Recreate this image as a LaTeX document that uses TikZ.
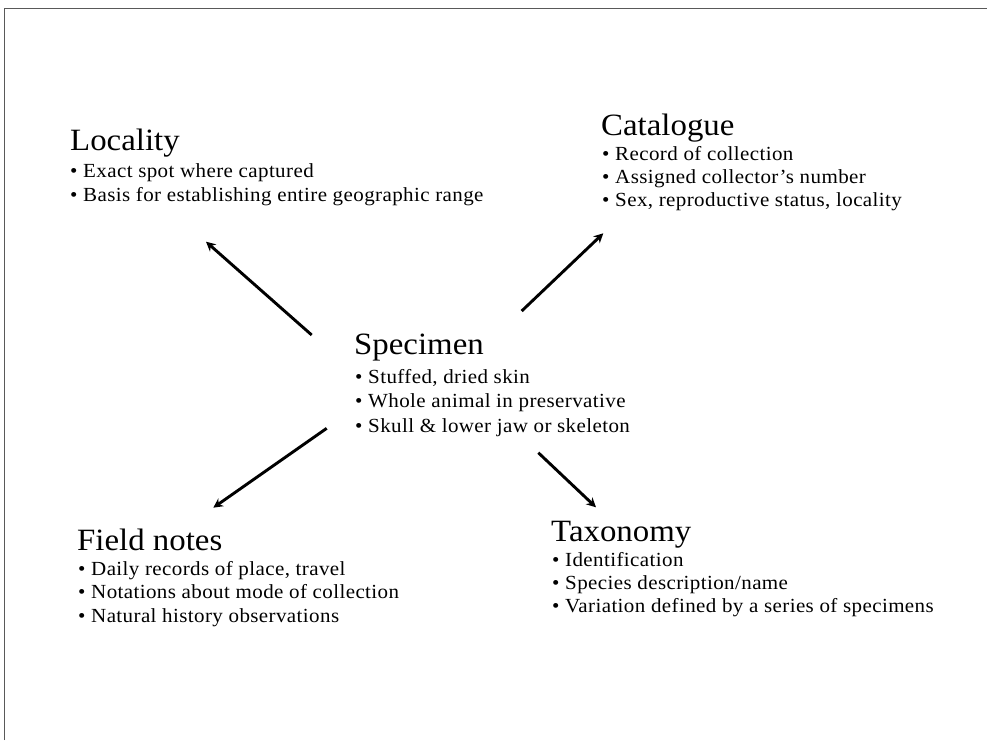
\documentclass[tikz,border=0pt]{standalone}
\usepackage{fontspec}
\setmainfont{Liberation Serif}
\newfontfamily\titlefont[FakeStretch=1.06]{Liberation Serif}
\newfontfamily\itemfont[FakeStretch=1.05,LetterSpace=2]{Liberation Serif}
\usetikzlibrary{arrows.meta}
\begin{document}
\begin{tikzpicture}[x=1pt,y=-1pt,
  ttl/.style={anchor=base west,inner sep=0pt,font=\titlefont\fontsize{31}{36}\selectfont},
  itm/.style={anchor=base west,inner sep=0pt,font=\itemfont\fontsize{20}{24}\selectfont},
  conn/.style={line width=2.9pt,-{Stealth[length=9.5pt,width=9.5pt]}},
  frame/.style={line width=1.3pt,draw=black!65}]
\useasboundingbox (0,0) rectangle (987,740);
% frame
\coordinate (fa) at (4.5,740);
\coordinate (fb) at (4.5,8.3);
\coordinate (fc) at (987,8.3);
\draw[frame] (fa) -- (fb) -- (fc);
% Locality
\node[ttl] (loct) at (70,150) {Locality};
\node[itm] (loc1) at (70,177.5) {• Exact spot where captured};
\node[itm] (loc2) at (70,201) {• Basis for establishing entire geographic range};
% Catalogue
\node[ttl] (catt) at (601,135.7) {Catalogue};
\node[itm] (cat1) at (602,160) {• Record of collection};
\node[itm] (cat2) at (602,183) {• Assigned collector’s number};
\node[itm] (cat3) at (602,206) {• Sex, reproductive status, locality};
% Specimen
\node[ttl] (spet) at (354,354.3) {Specimen};
\node[itm] (spe1) at (355,383) {• Stuffed, dried skin};
\node[itm] (spe2) at (355,407.5) {• Whole animal in preservative};
\node[itm] (spe3) at (355,432) {• Skull \& lower jaw or skeleton};
% Field notes
\node[ttl] (fldt) at (77,550) {Field notes};
\node[itm] (fld1) at (78,575.5) {• Daily records of place, travel};
\node[itm] (fld2) at (78,598.5) {• Notations about mode of collection};
\node[itm] (fld3) at (78,622) {• Natural history observations};
% Taxonomy
\node[ttl] (taxt) at (551,541.7) {Taxonomy};
\node[itm] (tax1) at (552,566.7) {• Identification};
\node[itm] (tax2) at (552,589.5) {• Species description/name};
\node[itm] (tax3) at (552,612.7) {• Variation defined by a series of specimens};
% connectors
\coordinate (a1s) at (311.7,335);   \coordinate (a1e) at (206,241.7);
\coordinate (a2s) at (521.7,311);   \coordinate (a2e) at (603.3,233.3);
\coordinate (a3s) at (326.7,428.3); \coordinate (a3e) at (213.3,507.7);
\coordinate (a4s) at (538.3,452.7); \coordinate (a4e) at (596,507.3);
\draw[conn] (a1s) -- (a1e);
\draw[conn] (a2s) -- (a2e);
\draw[conn] (a3s) -- (a3e);
\draw[conn] (a4s) -- (a4e);
\end{tikzpicture}
\end{document}
